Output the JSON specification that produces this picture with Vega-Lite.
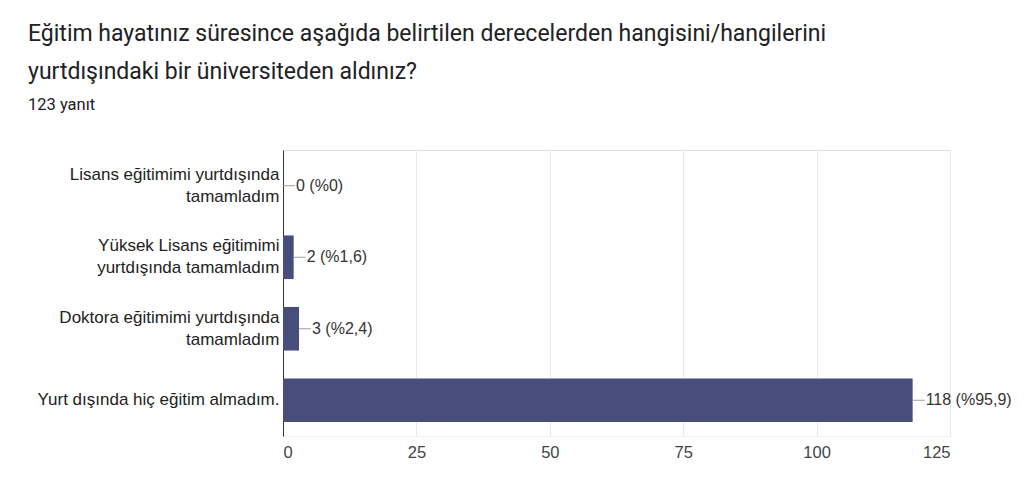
{
  "$schema": "https://vega.github.io/schema/vega-lite/v6.json",
  "width": 667,
  "height": 286,
  "autosize": {"type": "none"},
  "padding": {"left": 283, "top": 150, "right": 78, "bottom": 63},
  "background": "white",
  "title": {
    "text": ["Eğitim hayatınız süresince aşağıda belirtilen derecelerden hangisini/hangilerini", "yurtdışındaki bir üniversiteden aldınız?"],
    "subtitle": "123 yanıt",
    "anchor": "start",
    "frame": "group",
    "dx": -255,
    "offset": 37,
    "font": "Roboto",
    "fontSize": 23,
    "fontWeight": "normal",
    "lineHeight": 38,
    "color": "#202124",
    "subtitleFont": "Roboto",
    "subtitleFontSize": 16.5,
    "subtitleColor": "#202124",
    "subtitlePadding": 13
  },
  "data": {
    "values": [
      {"secenek": "Lisans eğitimimi yurtdışında\ntamamladım", "sayi": 0, "etiket": "0 (%0)"},
      {"secenek": "Yüksek Lisans eğitimimi\nyurtdışında tamamladım", "sayi": 2, "etiket": "2 (%1,6)"},
      {"secenek": "Doktora eğitimimi yurtdışında\ntamamladım", "sayi": 3, "etiket": "3 (%2,4)"},
      {"secenek": "Yurt dışında hiç eğitim almadım.", "sayi": 118, "etiket": "118 (%95,9)"}
    ]
  },
  "encoding": {
    "y": {
      "field": "secenek",
      "type": "nominal",
      "sort": null,
      "scale": {"paddingInner": 0.39, "paddingOuter": 0.195},
      "axis": {
        "title": null,
        "labelExpr": "split(datum.value, '\\n')",
        "labelFont": "Liberation Sans",
        "labelFontSize": 17,
        "labelColor": "#222222",
        "labelLineHeight": 22,
        "labelPadding": 4,
        "labelLimit": 400,
        "labelOffset": {"condition": {"test": "indexof(datum.value, '\\n') >= 0", "value": -11}, "value": 0},
        "ticks": false,
        "domainColor": "#333333",
        "domainWidth": 1,
        "grid": false
      }
    }
  },
  "layer": [
    {
      "mark": {"type": "bar", "color": "#474e7c"},
      "encoding": {
        "x": {
          "field": "sayi",
          "type": "quantitative",
          "scale": {"domain": [0, 125], "nice": false},
          "axis": {
            "title": null,
            "values": [0, 25, 50, 75, 100, 125],
            "labelFont": "Liberation Sans",
            "labelFontSize": 16.5,
            "labelColor": "#444444",
            "labelPadding": 8,
            "ticks": false,
            "domainColor": "#eeeeee",
            "gridColor": "#e8e8e8",
            "gridWidth": 1
          }
        }
      }
    },
    {
      "mark": {"type": "rule", "color": "#9e9e9e", "strokeWidth": 1, "x2Offset": 12},
      "encoding": {
        "x": {"field": "sayi", "type": "quantitative"},
        "x2": {"field": "sayi"},
        "y": {"field": "secenek", "type": "nominal", "sort": null, "bandPosition": 0.5}
      }
    },
    {
      "mark": {"type": "text", "align": "left", "baseline": "middle", "dx": 13, "font": "Liberation Sans", "fontSize": 16, "color": "#333333"},
      "encoding": {
        "x": {"field": "sayi", "type": "quantitative"},
        "text": {"field": "etiket"}
      }
    }
  ]
}
